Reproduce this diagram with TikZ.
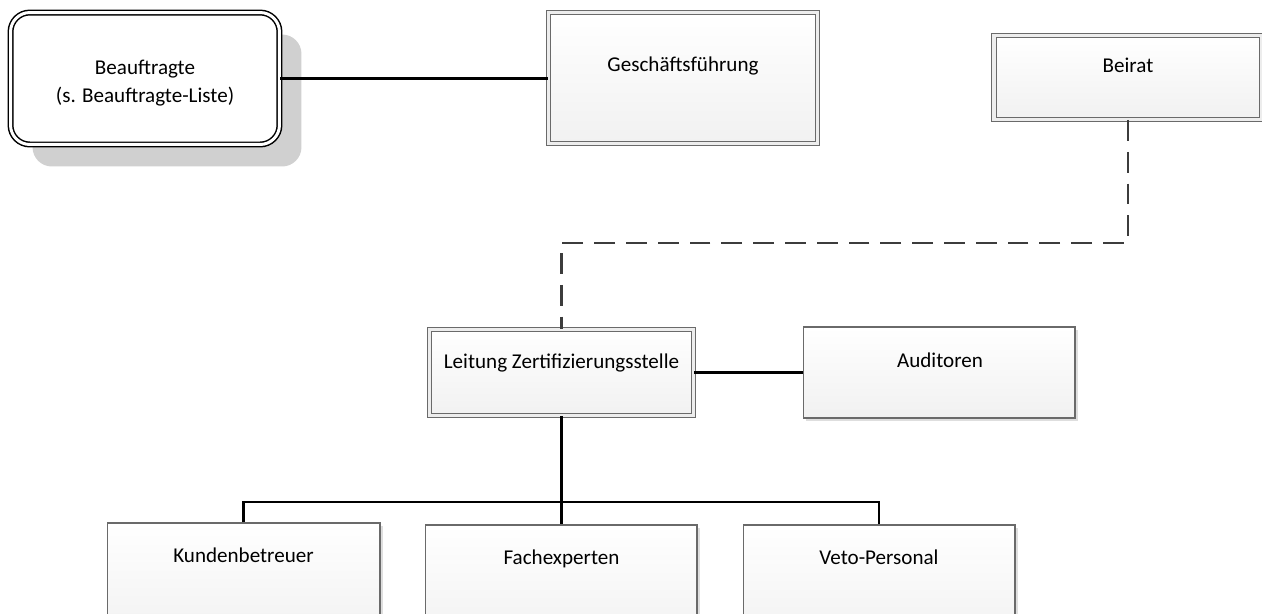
\documentclass[tikz,border=0pt]{standalone}
\usepackage{fontspec}
\setmainfont{Carlito}
\usetikzlibrary{shadows}
\definecolor{bordergray}{HTML}{6A6A6A}
\definecolor{boxbottom}{HTML}{F1F1F1}
\definecolor{shadowgray}{HTML}{DEDEDE}
\definecolor{bigshadow}{HTML}{D0D0D0}
\definecolor{dashgray}{HTML}{3C3C3C}
\begin{document}
\begin{tikzpicture}[x=0.02cm,y=-0.02cm,
  box/.style={draw=bordergray, line width=0.6pt, top color=white, bottom color=boxbottom,
    general shadow={fill=shadowgray, shadow xshift=0.06cm, shadow yshift=-0.06cm},
    inner sep=0pt},
  dbox/.style={box, double=white!93!black, double distance=1.8pt, line width=0.55pt},
  roundbox/.style={draw=black, line width=0.85pt, double=white, double distance=1.7pt,
    fill=white, rounded corners=11pt, inner sep=0pt,
    general shadow={fill=bigshadow, shadow xshift=0.44cm, shadow yshift=-0.44cm}},
  txt/.style={font=\fontsize{12}{15.9}\selectfont, inner sep=0pt, anchor=base, align=center},
  conn/.style={draw=black, line width=1.3pt},
  dashconn/.style={draw=dashgray, line width=1.3pt, dash pattern=on 11.9pt off 6.2pt}]
\useasboundingbox (0,0) rectangle (1262,613);

% boxes
\node[roundbox, minimum width=5.38cm, minimum height=2.64cm] (beauf) at (145,78.5) {};
\node[dbox, minimum width=5.38cm, minimum height=2.62cm] (gf) at (683,78) {};
\node[dbox, minimum width=5.36cm, minimum height=1.68cm] (beirat) at (1128,77.5) {};
\node[dbox, minimum width=5.28cm, minimum height=1.72cm] (leit) at (561.5,372.5) {};
\node[box, minimum width=5.44cm, minimum height=1.82cm] (aud) at (939,372.5) {};
\node[box, minimum width=5.46cm, minimum height=2.4cm] (kb) at (243.5,583) {};
\node[box, minimum width=5.44cm, minimum height=2.4cm] (fe) at (561,585) {};
\node[box, minimum width=5.44cm, minimum height=2.4cm] (vp) at (879,585) {};

% texts
\node[txt] (beauf-t) at (145,102) {Beauftragte\\(s. Beauftragte-Liste)};
\node[txt] (gf-t) at (683,71) {Geschäftsführung};
\node[txt] (beirat-t) at (1128,72) {Beirat};
\node[txt] (leit-t) at (561.5,368) {Leitung Zertifizierungsstelle};
\node[txt] (aud-t) at (940,367) {Auditoren};
\node[txt] (kb-t) at (243.5,562) {Kundenbetreuer};
\node[txt] (fe-t) at (561.5,564) {Fachexperten};
\node[txt] (vp-t) at (879,564) {Veto-Personal};

% helper coordinates
\coordinate (bend) at (0,243);
\coordinate (bus) at (0,502);

% connectors
\draw[conn] (beauf.east) -- (beauf.east -| gf.west);
\draw[dashconn] (beirat.south) |- (leit.north |- bend) -- (leit.north);
\draw[conn] (leit.east) -- (aud.west);
\draw[conn] (leit.south) -- (leit.south |- fe.north);
\draw[conn] (kb.north) |- (vp.north |- bus) -- (vp.north);
\end{tikzpicture}
\end{document}
